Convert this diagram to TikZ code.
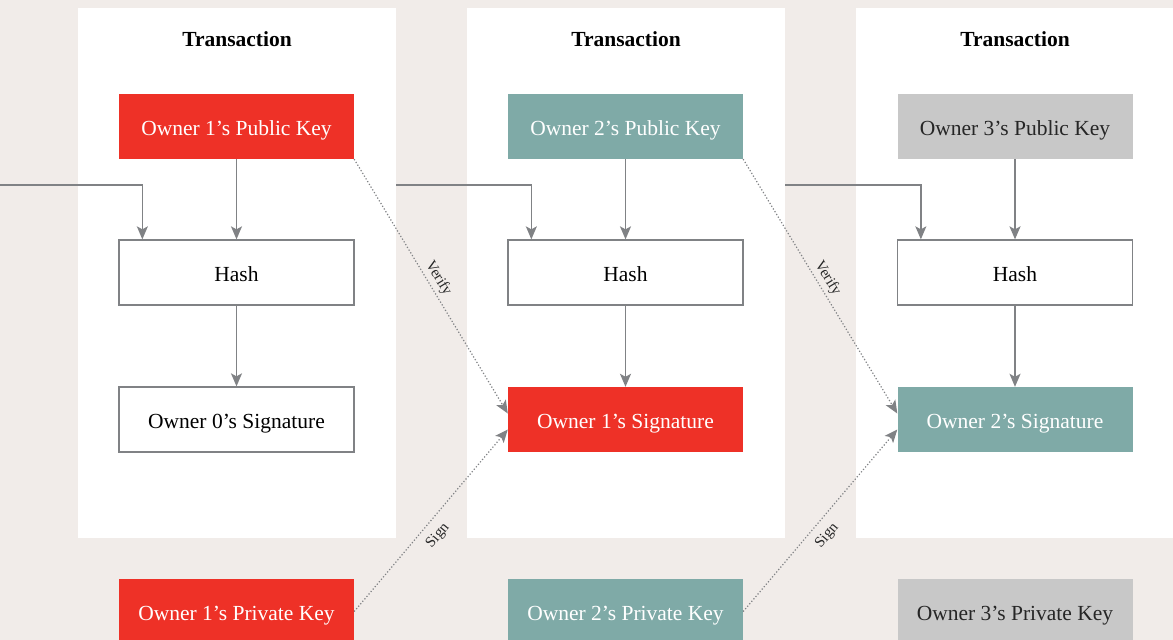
\documentclass[tikz,border=0pt]{standalone}
\usepackage{fontspec}
\setmainfont{Liberation Serif}
\usetikzlibrary{arrows.meta}
\usetikzlibrary{positioning}
\definecolor{pagebg}{HTML}{F1ECE9}
\definecolor{ownerred}{HTML}{EE3127}
\definecolor{ownerteal}{HTML}{7FAAA7}
\definecolor{ownergray}{HTML}{C8C8C8}
\definecolor{linegray}{HTML}{808285}
\tikzset{panel/.style = {fill=white, inner sep=0, anchor=north west,
                         minimum width=318pt, minimum height=530pt}}
\tikzset{title/.style = {font=\fontsize{21.5}{24}\selectfont\bfseries}}
\tikzset{box/.style = {inner sep=0, minimum width=235pt, minimum height=65pt,
                       text height=17pt, text depth=0pt,
                       font=\fontsize{21.5}{24}\selectfont}}
\tikzset{plainbox/.style = {box, fill=white, draw=linegray, line width=1.3pt}}
\tikzset{redbox/.style = {box, fill=ownerred, text=white}}
\tikzset{tealbox/.style = {box, fill=ownerteal, text=white}}
\tikzset{graybox/.style = {box, fill=ownergray, text=black!85}}
\tikzset{flow/.style = {draw=linegray, line width=1.5pt,
                        -{Stealth[length=13pt, width=11pt, inset=3pt]}}}
\tikzset{hint/.style = {draw=linegray, line width=1.2pt, dotted,
                        -{Stealth[length=13pt, width=11pt, inset=3pt]}}}
\tikzset{hintlabel/.style = {sloped, font=\fontsize{15}{17}\selectfont, text=black!85}}

\begin{document}
\begin{tikzpicture}[x=1pt, y=-1pt]
      \clip (0, 0) rectangle (1173, 640);
      \fill [pagebg] (0, 0) rectangle (1173, 640);

      % transaction panels
      \node (p1) at (78, 8) [panel] {};
      \node (p2) at (467, 8) [panel] {};
      \node (p3) at (856, 8) [panel] {};

      \node (t1) at (237, 39) [title] {Transaction};
      \node (t2) at (626, 39) [title] {Transaction};
      \node (t3) at (1015, 39) [title] {Transaction};

      % keys, hashes, signatures
      \node (pub1) at (236.5, 126.5) [redbox] {Owner 1’s Public Key};
      \node (pub2) at (625.5, 126.5) [tealbox] {Owner 2’s Public Key};
      \node (pub3) at (1015, 126.5) [graybox] {Owner 3’s Public Key};

      \node (hash1) at (236.5, 272.5) [plainbox] {Hash};
      \node (hash2) at (625.5, 272.5) [plainbox] {Hash};
      \node (hash3) at (1015, 272.5) [plainbox] {Hash};

      \node (sig0) at (236.5, 419.5) [plainbox] {Owner 0’s Signature};
      \node (sig1) at (625.5, 419.5) [redbox] {Owner 1’s Signature};
      \node (sig2) at (1015, 419.5) [tealbox] {Owner 2’s Signature};

      \node (priv1) at (236.5, 611.5) [redbox] {Owner 1’s Private Key};
      \node (priv2) at (625.5, 611.5) [tealbox] {Owner 2’s Private Key};
      \node (priv3) at (1015, 611.5) [graybox] {Owner 3’s Private Key};

      \coordinate (in1) at (0, 185);
      \coordinate (in2) at (396, 185);
      \coordinate (in3) at (785, 185);

      \draw [flow] (pub1) -- (hash1);
      \draw [flow] (pub2) -- (hash2);
      \draw [flow] (pub3) -- (hash3);
      \draw [flow] (hash1) -- (sig0);
      \draw [flow] (hash2) -- (sig1);
      \draw [flow] (hash3) -- (sig2);

      \draw [flow] (in1) -| ([xshift=24pt]hash1.north west);
      \draw [flow] (in2) -| ([xshift=24pt]hash2.north west);
      \draw [flow] (in3) -| ([xshift=24pt]hash3.north west);

      % verify and sign
      \draw [hint] (pub1.south east) -- ([yshift=6pt]sig1.west)
            node [pos = 0.49, above, inner sep = 3pt, hintlabel] {Verify};
      \draw [hint] (pub2.south east) -- ([yshift=6pt]sig2.west)
            node [pos = 0.49, above, inner sep = 3pt, hintlabel] {Verify};
      \draw [hint] (priv1.east) -- ([yshift=-10pt]sig1.west)
            node [pos = 0.47, below, inner sep = 8pt, hintlabel] {Sign};
      \draw [hint] (priv2.east) -- ([yshift=-10pt]sig2.west)
            node [pos = 0.47, below, inner sep = 8pt, hintlabel] {Sign};
    \end{tikzpicture}
\end{document}
